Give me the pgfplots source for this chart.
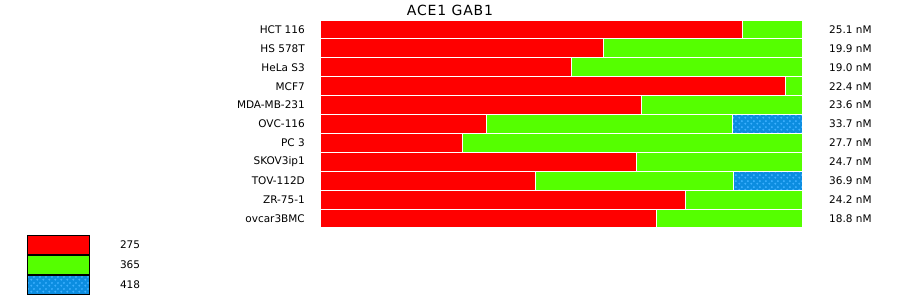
\documentclass[border=0pt]{standalone}
\usepackage{pgfplots}
\pgfplotsset{compat=1.18}
\usepackage{fontspec}
\setmainfont{DejaVu Sans}
\usetikzlibrary{patterns.meta}
\definecolor{cred}{HTML}{FF0000}
\definecolor{cgreen}{HTML}{55FF00}
\definecolor{cblue}{HTML}{0C8DE0}
\definecolor{cdots}{HTML}{3DB0FF}
\pgfdeclarepattern{name=mydots, type=uncolored,
  bottom left={\pgfpoint{0pt}{0pt}}, top right={\pgfpoint{6pt}{6pt}},
  tile size={\pgfpoint{6pt}{6pt}},
  code={\pgfpathcircle{\pgfpoint{1.5pt}{1.5pt}}{1.25pt}\pgfpathcircle{\pgfpoint{4.5pt}{4.5pt}}{1.25pt}\pgfusepath{fill}}}
\newcommand\lab{\fontsize{10.5}{12}\selectfont}
\begin{document}
\begin{tikzpicture}[x=1pt,y=1pt]
\path[use as bounding box] (0,0) rectangle (900,299);
\node[font={\fontsize{14}{16}\selectfont\addfontfeature{LetterSpace=6}}] at (450,288.5) {ACE1 GAB1};
\begin{axis}[
  at={(321pt,71pt)}, anchor=south west,
  scale only axis, width=481pt, height=208pt,
  xbar stacked, bar width=18.9pt,
  xmin=0, xmax=481, ymin=-0.5, ymax=10.5, y dir=reverse,
  axis line style={draw=none}, tick style={draw=none},
  xtick=\empty,
  ytick={0,...,10},
  yticklabels={HCT 116, HS 578T, HeLa S3, MCF7, MDA-MB-231, OVC-116, PC 3, SKOV3ip1, TOV-112D, ZR-75-1, ovcar3BMC},
  yticklabel style={font=\lab, inner sep=0pt, xshift=-16pt},
  clip=false,
  legend style={at={(axis description cs:-0.6112,-0.0337)}, anchor=north west, draw=none, fill=none,
    inner sep=0pt, outer sep=0pt, row sep=0pt, font=\lab, legend cell align=left,
    nodes={inner sep=0pt, outer sep=0pt}},
  legend image code/.code={\draw[#1,draw=black,line width=1pt] (0pt,-9.5pt) rectangle (62pt,9.5pt); \path (92pt,0pt);},
]
\addplot[fill=cred, draw=white, line width=1pt] coordinates {(421,0) (282,1) (250,2) (464,3) (320,4) (165,5) (141,6) (315,7) (214,8) (364,9) (335,10)};
\addplot[fill=cgreen, draw=white, line width=1pt] coordinates {(60,0) (199,1) (231,2) (17,3) (161,4) (246,5) (340,6) (166,7) (198,8) (117,9) (146,10)};
\addplot[fill=cblue, draw=white, line width=1pt, postaction={pattern=mydots, pattern color=cdots}] coordinates {(0,0) (0,1) (0,2) (0,3) (0,4) (70,5) (0,6) (0,7) (69,8) (0,9) (0,10)};
\legend{275,365,418}
\foreach \v [count=\i from 0] in {25.1,19.9,19.0,22.4,23.6,33.7,27.7,24.7,36.9,24.2,18.8}{
  \edef\tmp{\noexpand\node[anchor=west, inner sep=0pt, font=\noexpand\lab] at (axis cs:508,\i) {\v\space nM};}\tmp
}
\end{axis}
\end{tikzpicture}
\end{document}
